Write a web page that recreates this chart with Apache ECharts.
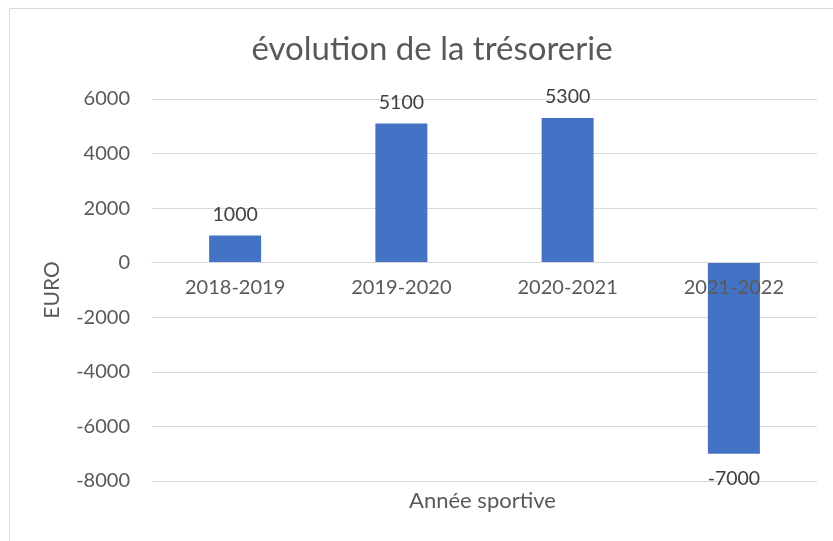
<!DOCTYPE html>
<html>
<head>
<meta charset="utf-8">
<script src="https://cdn.jsdelivr.net/npm/echarts@6/dist/echarts.min.js"></script>
<style>
html,body{margin:0;padding:0;background:#fff;}
#c{width:833px;height:541px;}
</style>
</head>
<body>
<div id="c"></div>
<script>
const titleText = "évolution de la trésorerie";
const categories = ["2018-2019", "2019-2020", "2020-2021", "2021-2022"];
const values = [1000, 5100, 5300, -7000];
const yTicks = { min: -8000, max: 6000, interval: 2000 };
const yName = "EURO";
const xName = "Année sportive";

const FONT = "Lato";
const GRID = { left: 152, right: 16, top: 99, bottom: 60 };
const plotH = 541 - GRID.top - GRID.bottom;
const plotCenterX = GRID.left + (833 - GRID.left - GRID.right) / 2;
// move the category axis to the zero line
const zeroOffset = -plotH * (0 - yTicks.min) / (yTicks.max - yTicks.min);

const chart = echarts.init(document.getElementById('c'), null, { renderer: 'canvas' });
const seriesData = values.map(v => v < 0 ? { value: v, label: { position: 'bottom', distance: 15 } } : v);

chart.setOption({
  animation: false,
  backgroundColor: '#ffffff',
  textStyle: { fontFamily: FONT },
  title: {
    text: titleText,
    left: 427,
    textAlign: 'center',
    top: 28,
    textStyle: { fontFamily: FONT, fontSize: 33, fontWeight: 'normal', color: '#595959' }
  },
  graphic: [
    { type: 'rect', left: 7, top: 6, shape: { width: 840, height: 560 }, style: { fill: 'none', stroke: '#d9d9d9', lineWidth: 1 }, z: -1 },
    { type: 'text', x: plotCenterX - 2, y: 490, style: { text: xName, font: '22px ' + FONT, fill: '#595959', align: 'center', verticalAlign: 'top' } }
  ],
  grid: { left: GRID.left, right: GRID.right, top: GRID.top, bottom: GRID.bottom, containLabel: false },
  xAxis: {
    type: 'category',
    data: categories,
    offset: zeroOffset,
    z: 10,
    axisLine: { onZero: false, lineStyle: { color: '#d9d9d9', width: 1 } },
    axisTick: { show: false },
    axisLabel: { color: '#595959', fontSize: 20, fontFamily: FONT, margin: 15 },
    splitLine: { show: false }
  },
  yAxis: {
    type: 'value',
    min: yTicks.min, max: yTicks.max, interval: yTicks.interval,
    name: yName,
    nameLocation: 'middle',
    nameRotate: 90,
    nameGap: 89,
    nameTextStyle: { color: '#595959', fontSize: 21, fontFamily: FONT },
    axisLine: { show: false },
    axisTick: { show: false },
    axisLabel: { color: '#595959', fontSize: 20, fontFamily: FONT, margin: 22, formatter: v => String(v) },
    splitLine: { lineStyle: { color: '#d9d9d9', width: 1 } }
  },
  series: [{
    type: 'bar',
    data: seriesData,
    barWidth: 52,
    z: 2,
    itemStyle: { color: '#4472C4' },
    label: { show: true, position: 'top', distance: 11, color: '#404040', fontSize: 19.5, fontFamily: FONT }
  }]
});
</script>
</body>
</html>
